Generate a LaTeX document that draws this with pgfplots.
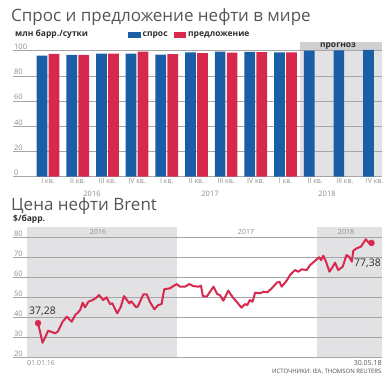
\documentclass[border=0pt]{standalone}
\usepackage{fontspec}
\setmainfont{Open Sans}
\usepackage{pgfplots}
\pgfplotsset{compat=1.18}
\definecolor{cblue}{HTML}{1A5EA6}
\definecolor{cred}{HTML}{D6294D}
\definecolor{bandgray}{HTML}{E2E2E4}
\definecolor{headgray}{HTML}{D0D0D2}
\definecolor{gridgray}{HTML}{A6A6A6}
\definecolor{ticktext}{HTML}{8C8C8C}
\definecolor{titletext}{HTML}{555555}
\definecolor{darktext}{HTML}{2E2E2E}
\begin{document}
\begin{tikzpicture}
\path (0pt,0pt) rectangle (391pt,380pt);
% ---------- titles and legend ----------
\node[anchor=base west, inner sep=0, font=\fontsize{17}{17}\selectfont, text=titletext] at (11pt,358pt) {Спрос и предложение нефти в мире};
\node[anchor=west, inner sep=0, font=\fontsize{8.5}{9}\selectfont\bfseries, text=darktext] at (15pt,345.3pt) {млн барр./сутки};
\fill[cblue] (128pt,342.3pt) rectangle (140.7pt,348.3pt);
\node[anchor=west, inner sep=0, font=\fontsize{8.5}{9}\selectfont\bfseries, text=darktext] at (142.5pt,345.3pt) {спрос};
\fill[cred] (173.7pt,342.3pt) rectangle (186pt,348.3pt);
\node[anchor=west, inner sep=0, font=\fontsize{8.5}{9}\selectfont\bfseries, text=darktext] at (188pt,345.3pt) {предложение};
% ---------- top chart ----------
\begin{axis}[
  at={(13pt,203.3pt)}, anchor=south west, scale only axis,
  width=368.7pt, height=135pt,
  xmin=-1.18, xmax=11.24, ymin=0, ymax=107.14,
  set layers, clip=false,
  axis line style={draw=none}, major tick length=0pt,
  ytick={0,20,...,100}, ymajorgrids,
  grid style={gridgray, line width=0.7pt},
  /pgf/number format/assume math mode=true,
  yticklabel style={anchor=south west, inner sep=1pt, font=\fontsize{7.5}{8}\selectfont, text=ticktext},
  xtick={0,...,11},
  xticklabels={I кв., II кв., III кв., IV кв., I кв., II кв., III кв., IV кв., I кв., II кв., III кв., IV кв.},
  xticklabel style={font=\fontsize{7}{8}\selectfont, text=ticktext, inner sep=2pt},
]
\addplot[fill=bandgray, draw=none, on layer=axis background] coordinates {(8.48,0) (11.24,0) (11.24,107.14) (8.48,107.14)} -- cycle;
\addplot[fill=headgray, draw=none, on layer=axis background] coordinates {(8.48,100) (11.24,100) (11.24,107.14) (8.48,107.14)} -- cycle;
\addplot[ybar, bar width=10.7pt, bar shift=-6pt, fill=cblue, draw=none] coordinates {
(0,96.0) (1,96.6) (2,97.7) (3,97.7) (4,96.9) (5,98.7) (6,99.2) (7,99.1) (8,98.7) (9,100.0) (10,100.2) (11,100.7)};
\addplot[ybar, bar width=10.7pt, bar shift=6pt, fill=cred, draw=none] coordinates {
(0,97.4) (1,96.6) (2,97.7) (3,99.3) (4,97.3) (5,98.1) (6,98.5) (7,98.8) (8,98.7)};
\end{axis}
\node[font=\fontsize{8.5}{9}\selectfont\bfseries, text=darktext, inner sep=0] at (338pt,334pt) {прогноз};
\node[font=\fontsize{7.5}{8}\selectfont, text=ticktext, inner sep=0] at (92pt,186.5pt) {2016};
\node[font=\fontsize{7.5}{8}\selectfont, text=ticktext, inner sep=0] at (210pt,186.5pt) {2017};
\node[font=\fontsize{7.5}{8}\selectfont, text=ticktext, inner sep=0] at (327pt,186.5pt) {2018};
% ---------- second title ----------
\node[anchor=base west, inner sep=0, font=\fontsize{17}{17}\selectfont, text=titletext] at (11pt,169.3pt) {Цена нефти Brent};
\node[anchor=west, inner sep=0, font=\fontsize{8.5}{9}\selectfont\bfseries, text=darktext] at (13pt,161pt) {\$/барр.};
% ---------- bottom chart ----------
\begin{axis}[
  at={(13pt,22.3pt)}, anchor=south west, scale only axis,
  width=368.7pt, height=130.4pt,
  xmin=-66, xmax=906.9, ymin=20, ymax=85.2,
  set layers, clip=false,
  axis line style={draw=none}, major tick length=0pt,
  ytick={20,30,...,80}, ymajorgrids, xtick=\empty,
  grid style={gridgray, line width=0.7pt},
  /pgf/number format/assume math mode=true,
  yticklabel style={anchor=south west, inner sep=1pt, font=\fontsize{7.5}{8}\selectfont, text=ticktext},
]
\addplot[fill=bandgray, draw=none, on layer=axis background] coordinates {(-30,20) (368,20) (368,85.2) (-30,85.2)} -- cycle;
\addplot[fill=bandgray, draw=none, on layer=axis background] coordinates {(735,20) (906.9,20) (906.9,85.2) (735,85.2)} -- cycle;
\addplot[cred, line width=2pt, line join=round] coordinates {
(0,37.28) (12,27.5) (27,33.5) (45,32.2) (52,33.0) (65,38.0) (76,40.5) (89,38.0) (98,41.3) (105,42.5)
(111,43.8) (118,47.5) (124,45.2) (133,48.0) (146,49.0) (155,50.2) (161,51.3) (172,48.8) (181,50.2) (190,46.8)
(196,47.2) (209,42.2) (218,45.2) (227,50.8) (241,47.2) (246,48.2) (259,45.2) (264,45.8) (278,51.7) (287,51.7)
(295,48.0) (307,44.2) (317,46.3) (326,46.8) (333,54.2) (348,54.7) (357,55.8) (366,56.8) (375,55.5) (388,55.5)
(399,56.8) (410,55.8) (423,55.5) (430,56.0) (435,50.8) (445,50.5) (463,55.5) (473,51.8) (480,51.3) (489,48.5)
(502,53.5) (514,50.2) (524,48.0) (537,45.0) (546,46.8) (552,46.3) (559,48.8) (566,48.0) (573,52.5) (586,52.2)
(595,53.0) (605,52.7) (617,54.7) (630,57.5) (637,58.0) (643,55.5) (656,58.5) (665,61.3) (678,63.8) (687,63.0)
(696,64.2) (709,63.8) (718,66.3) (733,68.8) (742,70.2) (747,68.8) (753,71.0) (760,68.0) (769,63.0) (778,65.5)
(784,67.5) (792,63.8) (804,65.5) (814,71.3) (821,70.5) (828,68.0) (832,73.5) (841,74.7) (852,75.5) (865,79.2)
(874,77.2) (880,77.38)};
\addplot[only marks, mark=*, mark size=3pt, cred] coordinates {(0,37.28) (880,77.38)};
\node[anchor=south, inner sep=0, font=\fontsize{10.5}{11}\selectfont, text=darktext] at (axis cs:0,37.28) [xshift=4.5pt, yshift=7.5pt] {37,28};
\node[anchor=north, inner sep=0, font=\fontsize{10.5}{11}\selectfont, text=darktext] at (axis cs:880,77.38) [xshift=-4pt, yshift=-16pt] {77,38};
\end{axis}
\node[font=\fontsize{7}{8}\selectfont, text=ticktext, inner sep=0] at (98pt,148.3pt) {2016};
\node[font=\fontsize{7}{8}\selectfont, text=ticktext, inner sep=0] at (246pt,148.3pt) {2017};
\node[font=\fontsize{7}{8}\selectfont, text=ticktext, inner sep=0] at (346pt,148.3pt) {2018};
\node[font=\fontsize{7}{8}\selectfont, text=ticktext, inner sep=0] at (41pt,17pt) {01.01.16};
\node[anchor=east, font=\fontsize{7}{8}\selectfont, text=darktext!80, inner sep=0] at (381.7pt,16.5pt) {30.05.18};
\node[anchor=east, font=\fontsize{6}{7}\selectfont, text=darktext!85, inner sep=0] at (381.7pt,8pt) {ИСТОЧНИКИ: IEA, THOMSON REUTERS};
\end{tikzpicture}
\end{document}
